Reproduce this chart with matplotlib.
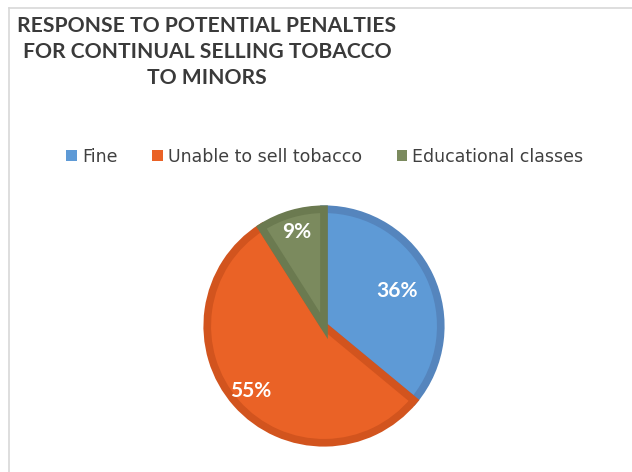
import numpy as np
import matplotlib
matplotlib.use("Agg")
import matplotlib.pyplot as plt
from matplotlib.lines import Line2D
from matplotlib.patches import Patch

title_lines = ["RESPONSE TO POTENTIAL PENALTIES",
               "FOR CONTINUAL SELLING TOBACCO",
               "TO MINORS"]
categories = ["Fine", "Unable to sell tobacco", "Educational classes"]
shares = [36, 55, 9]
fill_colors = ["#5e9ad6", "#ea6226", "#7b8a5e"]
edge_colors = ["#5585bd", "#d2541e", "#6b7a50"]
label_dist = [0.67, 0.81, 0.81]

plt.rcParams["font.family"] = ["Lato", "DejaVu Sans"]

W, H = 632, 472
fig = plt.figure(figsize=(W / 100, H / 100), dpi=100)
fig.patch.set_facecolor("white")

# faint frame along the top and left edges
fig.add_artist(Line2D([9 / W, 9 / W], [0, 1 - 8 / H], color="#d8d8d8", lw=1.2))
fig.add_artist(Line2D([9 / W, 1], [1 - 8 / H, 1 - 8 / H], color="#d8d8d8", lw=1.2))

# title
fig.text(207 / W, 1 - 52 / H, "\n".join(title_lines), ha="center", va="center",
         fontsize=15.2, fontweight="bold", color="#3a3a3a", linespacing=1.38)

# pie
cx, cy, r = 324, 326, 121
ax = fig.add_axes([(cx - r) / W, 1 - (cy + r) / H, 2 * r / W, 2 * r / H])
wedges, _ = ax.pie(shares, colors=fill_colors, startangle=90, counterclock=False,
                   radius=0.965, wedgeprops=dict(linewidth=5.5, joinstyle="miter"))
for w, ec in zip(wedges, edge_colors):
    w.set_edgecolor(ec)
for w, v, d in zip(wedges, shares, label_dist):
    ang = np.deg2rad((w.theta1 + w.theta2) / 2)
    ax.text(d * np.cos(ang), d * np.sin(ang), f"{v}%", ha="center", va="center",
            color="white", fontsize=15, fontweight="bold")
ax.set_xlim(-1, 1)
ax.set_ylim(-1, 1)
ax.set_aspect("equal")
ax.axis("off")

# legend
handles = [Patch(facecolor=c, edgecolor="none") for c in fill_colors]
fig.legend(handles, categories, loc="center", bbox_to_anchor=(325 / W, 1 - 157 / H),
           ncol=3, frameon=False, fontsize=12.5, handlelength=0.6, handleheight=0.6,
           handletextpad=0.3, columnspacing=2.0, labelcolor="#404040",
           prop={"family": "DejaVu Sans", "size": 12.5})

fig.savefig("out.png", dpi=100, facecolor="white")
